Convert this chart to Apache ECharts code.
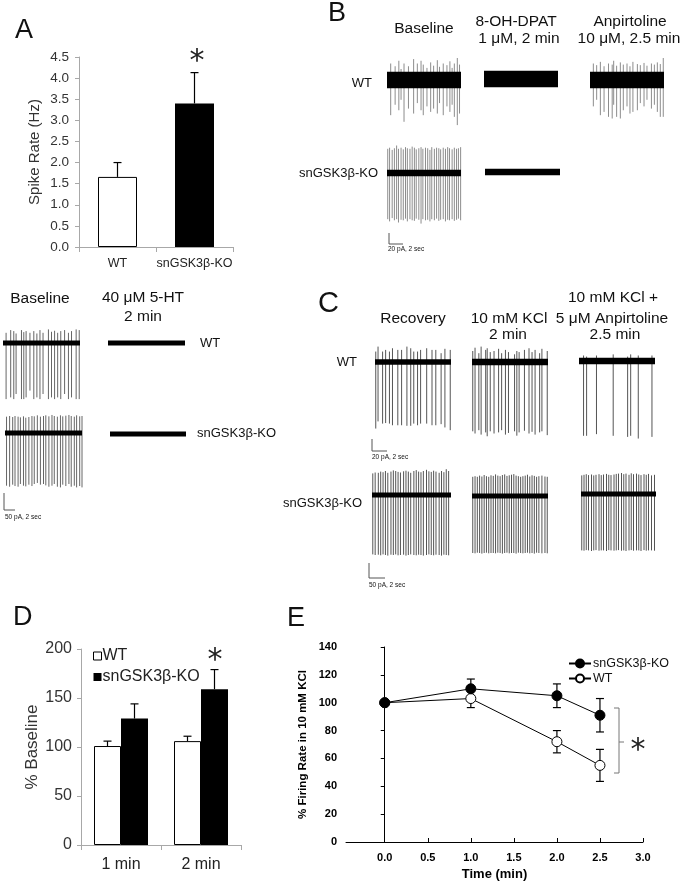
<!DOCTYPE html>
<html>
<head>
<meta charset="utf-8">
<script src="https://cdn.jsdelivr.net/npm/echarts@6/dist/echarts.min.js"></script>
<style>
  html, body { margin: 0; padding: 0; background: #fff; }
  #chart { width: 683px; height: 888px; }
</style>
</head>
<body>
<div id="chart"></div>
<script>
const FONT = 'Liberation Sans, Arial, sans-serif'
const TRACE_SEC = 10

// A - spontaneous spike rate
const aGroups = ['WT', 'snGSK3β-KO']
const aRate = [1.66, 3.40]
const aRateSem = [0.34, 0.73]

// D - % baseline after 5-HT
const dTimes = ['1 min', '2 min']
const dWt = [101, 106]
const dWtSem = [5, 5]
const dKo = [129, 159]
const dKoSem = [15, 20]

// E - firing rate in 10 mM KCl
const eTime = [0, 1, 2, 2.5]
const eKo = [100, 110, 105, 91]
const eKoSem = [0, 7, 8.5, 12]
const eWt = [100, 103, 72, 55]
const eWtSem = [0, 6.5, 8, 11.5]
const eTicks = [0, 0.5, 1, 1.5, 2, 2.5, 3]

// recordings: spikes are [time (s), peak (pA), trough (pA)]
const bWtBase = [[0.5,30,-64],[1.1,25,-45],[1.6,35,-55],[1.9,20,-36],[2.3,30,-76],[2.9,25,-52],[3.6,38,-61],[4.1,30,-42],[4.6,35,-55],[4.9,28,-64],[5.4,22,-48],[5.9,32,-58],[6.3,26,-52],[6.8,36,-61],[7.1,24,-42],[7.6,30,-64],[8.1,27,-48],[8.5,34,-58],[8.8,22,-45],[9.1,30,-67],[9.5,40,-82],[9.8,28,-61]]
const bWtDpat = []
const bWtAnp = [[0.45,30,-48],[0.9,27,-36],[1.4,33,-64],[1.9,25,-58],[2.5,30,-67],[3.0,28,-70],[3.2,35,-45],[3.6,26,-67],[4.1,32,-70],[4.5,28,-55],[5.0,30,-48],[5.4,25,-61],[5.8,33,-58],[6.4,29,-55],[6.8,27,-42],[7.3,31,-48],[7.7,26,-36],[8.3,30,-52],[8.7,28,-45],[9.1,32,-58],[9.5,29,-67],[9.9,40,-67]]
const bKoBase = [[0.1,44,-84],[0.35,46,-88],[0.7,42,-82],[1.0,45,-86],[1.3,50,-84],[1.55,44,-90],[1.9,46,-85],[2.2,43,-86],[2.5,47,-83],[2.75,45,-88],[3.1,44,-84],[3.4,48,-86],[3.7,46,-87],[3.95,43,-83],[4.3,45,-85],[4.6,47,-92],[4.85,44,-84],[5.2,46,-86],[5.5,45,-85],[5.8,42,-88],[6.05,47,-84],[6.4,44,-86],[6.7,46,-83],[7.0,45,-87],[7.25,43,-85],[7.6,46,-84],[7.9,44,-88],[8.2,47,-85],[8.45,45,-86],[8.8,43,-84],[9.1,46,-87],[9.4,44,-85],[9.65,45,-83],[9.95,47,-86]]
const bKoDpat = []
const htWtBase = [[0.4,30,-165],[1.0,38,-160],[1.4,35,-165],[1.7,28,-150],[2.4,38,-165],[2.7,32,-165],[3.0,35,-160],[3.5,30,-140],[4.0,35,-165],[4.4,28,-160],[4.8,38,-165],[5.2,30,-150],[5.9,40,-165],[6.3,33,-160],[6.7,36,-165],[7.1,30,-160],[7.5,35,-165],[8.0,38,-150],[8.5,30,-165],[8.9,35,-160],[9.5,40,-165],[9.9,38,-165]]
const htWt5ht = []
const htKoBase = [[0.2,48,-155],[0.6,50,-158],[1.0,47,-152],[1.3,50,-156],[1.7,48,-158],[2.0,46,-150],[2.4,49,-155],[2.7,45,-157],[3.1,47,-152],[3.5,50,-156],[3.8,49,-150],[4.2,52,-147],[4.6,48,-152],[5.0,50,-150],[5.3,52,-154],[5.7,49,-158],[6.1,53,-155],[6.4,50,-150],[6.8,48,-158],[7.2,52,-160],[7.5,49,-152],[7.9,51,-156],[8.3,53,-150],[8.6,50,-158],[9.0,48,-155],[9.3,52,-160],[9.7,49,-156],[10.0,50,-160]]
const htKo5ht = []
const cWtRec = [[0.1,19,-121],[0.4,28,-108],[1.0,19,-112],[1.4,22,-111],[1.9,19,-112],[2.3,25,-115],[3.0,22,-115],[3.5,22,-115],[4.2,28,-116],[4.7,25,-116],[5.1,19,-112],[5.6,19,-115],[6.0,22,-112],[6.8,25,-112],[7.5,22,-115],[8.0,22,-115],[8.7,16,-113],[9.2,24,-119],[9.9,22,-124]]
const cWtKcl = [[0.1,20,-126],[0.4,26,-130],[0.9,16,-124],[1.2,28,-132],[1.8,22,-128],[2.0,25,-135],[2.4,18,-126],[2.9,20,-130],[3.5,24,-128],[3.9,16,-124],[4.4,22,-132],[4.8,18,-129],[5.6,14,-126],[5.9,20,-134],[6.2,18,-128],[6.9,22,-125],[7.5,25,-130],[7.9,18,-127],[8.3,22,-132],[8.9,16,-128],[9.2,24,-126],[9.9,20,-133]]
const cWtAnp = [[0.6,10,-136],[1.0,8,-136],[2.3,10,-133],[4.5,12,-136],[6.4,8,-138],[6.8,12,-136],[7.8,10,-141],[9.6,10,-138]]
const cKoRec = [[0.1,72,-198],[0.4,75,-200],[0.8,74,-199],[1.1,78,-201],[1.4,76,-198],[1.7,80,-200],[2.0,74,-202],[2.4,78,-199],[2.7,82,-200],[3.0,80,-198],[3.3,77,-201],[3.6,75,-200],[4.0,79,-199],[4.3,81,-202],[4.6,78,-200],[4.9,74,-198],[5.3,80,-200],[5.6,83,-201],[5.9,78,-199],[6.2,76,-200],[6.5,80,-202],[6.9,84,-200],[7.2,79,-198],[7.5,77,-200],[7.8,81,-201],[8.1,78,-199],[8.5,74,-200],[8.8,80,-202],[9.1,76,-199],[9.4,86,-200],[9.7,80,-201]]
const cKoKcl = [[0.1,64,-190],[0.4,66,-191],[0.7,64,-189],[1.0,68,-190],[1.3,65,-192],[1.6,70,-190],[1.9,66,-189],[2.2,64,-191],[2.5,69,-190],[2.8,67,-190],[3.1,72,-191],[3.4,68,-189],[3.7,66,-190],[4.0,70,-192],[4.3,72,-190],[4.6,67,-189],[4.9,69,-191],[5.2,71,-190],[5.5,73,-190],[5.8,68,-192],[6.1,66,-189],[6.4,64,-190],[6.7,66,-191],[7.0,68,-190],[7.3,71,-189],[7.6,65,-191],[7.9,69,-190],[8.2,67,-192],[8.5,64,-189],[8.8,66,-190],[9.2,68,-191],[9.6,65,-190],[9.9,64,-191]]
const cKoAnp = [[0.1,62,-188],[0.4,64,-189],[0.7,66,-187],[1.0,63,-188],[1.4,65,-190],[1.7,62,-188],[2.0,64,-187],[2.4,66,-189],[2.7,63,-188],[3.0,65,-188],[3.4,67,-190],[3.7,64,-187],[4.0,63,-188],[4.4,65,-189],[4.7,67,-188],[5.0,68,-187],[5.4,70,-189],[5.7,66,-188],[6.0,68,-190],[6.4,64,-188],[6.7,69,-187],[7.0,66,-189],[7.4,68,-188],[7.7,65,-188],[8.0,63,-190],[8.4,66,-187],[8.7,64,-189],[9.0,67,-188],[9.4,62,-188],[9.8,64,-189]]

// where each recording sits on the page
const traces = [
  { spikes: bWtBase, noise: 15, left: 387, cy: 80, width: 74, pxPerPA: 0.55, color: '#8c8c8c' },
  { spikes: bWtDpat, noise: 15, left: 484, cy: 79, width: 74, pxPerPA: 0.55, color: '#8c8c8c' },
  { spikes: bWtAnp, noise: 15, left: 590, cy: 80, width: 74, pxPerPA: 0.55, color: '#8c8c8c' },
  { spikes: bKoBase, noise: 6, left: 387, cy: 173, width: 74, pxPerPA: 0.55, color: '#8c8c8c' },
  { spikes: bKoDpat, noise: 6, left: 485, cy: 172, width: 75, pxPerPA: 0.55, color: '#8c8c8c' },
  { spikes: htWtBase, noise: 7, left: 3, cy: 343, width: 77, pxPerPA: 0.34, color: '#666' },
  { spikes: htWt5ht, noise: 7, left: 108, cy: 343, width: 77, pxPerPA: 0.34, color: '#666' },
  { spikes: htKoBase, noise: 7, left: 5, cy: 433, width: 77, pxPerPA: 0.34, color: '#666' },
  { spikes: htKo5ht, noise: 7, left: 110, cy: 434, width: 76, pxPerPA: 0.34, color: '#666' },
  { spikes: cWtRec, noise: 5, left: 375, cy: 362, width: 76, pxPerPA: 0.55, color: '#555' },
  { spikes: cWtKcl, noise: 6, left: 472, cy: 362, width: 76, pxPerPA: 0.55, color: '#555' },
  { spikes: cWtAnp, noise: 6, left: 579, cy: 361, width: 76, pxPerPA: 0.55, color: '#555' },
  { spikes: cKoRec, noise: 8, left: 372, cy: 495, width: 79, pxPerPA: 0.3, color: '#555' },
  { spikes: cKoKcl, noise: 8, left: 472, cy: 496, width: 76, pxPerPA: 0.3, color: '#555' },
  { spikes: cKoAnp, noise: 8, left: 581, cy: 494, width: 75, pxPerPA: 0.3, color: '#555' }
]

const grid = [], xAxis = [], yAxis = [], series = []

function addGrid(g, xa, ya) {
  grid.push(g)
  const i = grid.length - 1
  xa.gridIndex = i
  ya.gridIndex = i
  xAxis.push(xa)
  yAxis.push(ya)
  return i
}

// error bar drawer, offset in px for grouped bars
function errorBars(offset, both, cap) {
  return function (params, api) {
    const x = api.value(0), v = api.value(1), e = api.value(2)
    if (!e) return { type: 'group', children: [] }
    const top = api.coord([x, v + e])
    const bot = api.coord([x, both ? v - e : v])
    const cx = top[0] + offset
    const st = { stroke: '#000', lineWidth: 1.2 }
    const kids = [
      { type: 'line', shape: { x1: cx, y1: top[1], x2: cx, y2: bot[1] }, style: st },
      { type: 'line', shape: { x1: cx - cap, y1: top[1], x2: cx + cap, y2: top[1] }, style: st }
    ]
    if (both) kids.push({ type: 'line', shape: { x1: cx - cap, y1: bot[1], x2: cx + cap, y2: bot[1] }, style: st })
    return { type: 'group', children: kids }
  }
}

const grayAxis = { show: true, lineStyle: { color: '#a8a8a8', width: 1 } }

// ---- panel A
const gA = addGrid(
  { left: 79, top: 57, width: 154, height: 190 },
  { type: 'category', data: aGroups, axisLine: grayAxis,
    axisTick: { show: true, length: 5, lineStyle: { color: '#a8a8a8' } },
    axisLabel: { interval: 0, fontSize: 12.5, color: '#222', margin: 10, fontFamily: FONT } },
  { type: 'value', min: 0, max: 4.5, interval: 0.5, splitLine: { show: false },
    axisLine: grayAxis, axisTick: { show: true, length: 4, lineStyle: { color: '#a8a8a8' } },
    axisLabel: { fontSize: 13.5, color: '#333', margin: 10, fontFamily: FONT, formatter: v => v.toFixed(1) },
    name: 'Spike Rate (Hz)', nameLocation: 'middle', nameGap: 37,
    nameTextStyle: { fontSize: 15, color: '#333', fontFamily: FONT } }
)
series.push({
  type: 'bar', xAxisIndex: gA, yAxisIndex: gA, barWidth: 39,
  data: aRate.map((v, i) => ({ value: v, itemStyle: i === 0 ? { color: '#fff', borderColor: '#000', borderWidth: 1 } : { color: '#000' } }))
})
series.push({
  type: 'custom', xAxisIndex: gA, yAxisIndex: gA, z: 3,
  data: aRate.map((v, i) => [i, v, aRateSem[i]]), renderItem: errorBars(0, false, 4)
})

// ---- panel D
const gD = addGrid(
  { left: 81, top: 649, width: 160, height: 196 },
  { type: 'category', data: dTimes, axisLine: grayAxis,
    axisTick: { show: true, length: 5, lineStyle: { color: '#a8a8a8' } },
    axisLabel: { interval: 0, fontSize: 16, color: '#222', margin: 12, fontFamily: FONT } },
  { type: 'value', min: 0, max: 200, interval: 50, splitLine: { show: false },
    axisLine: grayAxis, axisTick: { show: true, length: 4, lineStyle: { color: '#a8a8a8' } },
    axisLabel: { fontSize: 16, color: '#333', margin: 9, fontFamily: FONT },
    name: '% Baseline', nameLocation: 'middle', nameGap: 40,
    nameTextStyle: { fontSize: 17, color: '#333', fontFamily: FONT } }
)
series.push({
  type: 'bar', name: 'dWT', xAxisIndex: gD, yAxisIndex: gD, barWidth: 27, barGap: '0%',
  itemStyle: { color: '#fff', borderColor: '#000', borderWidth: 1 }, data: dWt
})
series.push({
  type: 'bar', name: 'dKO', xAxisIndex: gD, yAxisIndex: gD, barWidth: 27, barGap: '0%',
  itemStyle: { color: '#000' }, data: dKo
})
series.push({
  type: 'custom', xAxisIndex: gD, yAxisIndex: gD, z: 3,
  data: dWt.map((v, i) => [i, v, dWtSem[i]]), renderItem: errorBars(-13.5, false, 4)
})
series.push({
  type: 'custom', xAxisIndex: gD, yAxisIndex: gD, z: 3,
  data: dKo.map((v, i) => [i, v, dKoSem[i]]), renderItem: errorBars(13.5, false, 4)
})

// ---- panel E
const gE = addGrid(
  { left: 346, top: 647, width: 297, height: 195 },
  { type: 'value', min: -0.45, max: 3, splitLine: { show: false },
    axisLine: { show: true, lineStyle: { color: '#000', width: 1 } },
    axisTick: { show: true, inside: true, length: 4, customValues: eTicks, lineStyle: { color: '#000' } },
    axisLabel: { customValues: eTicks, formatter: v => v.toFixed(1), fontSize: 11, fontWeight: 'bold', color: '#000', margin: 10, fontFamily: FONT },
    name: 'Time (min)', nameLocation: 'middle', nameGap: 26,
    nameTextStyle: { fontSize: 13, fontWeight: 'bold', color: '#000', fontFamily: FONT } },
  { type: 'value', min: 0, max: 140, interval: 20, splitLine: { show: false },
    axisLine: { show: true, lineStyle: { color: '#000', width: 1 } },
    axisTick: { show: true, length: 4, lineStyle: { color: '#000' } },
    axisLabel: { fontSize: 11, fontWeight: 'bold', color: '#000', margin: 9, fontFamily: FONT },
    name: '% Firing Rate in 10 mM KCl', nameLocation: 'middle', nameGap: 37,
    nameTextStyle: { fontSize: 11.5, fontWeight: 'bold', color: '#000', fontFamily: FONT } }
)
series.push({
  type: 'custom', xAxisIndex: gE, yAxisIndex: gE, z: 1,
  data: eTime.map((t, i) => [t, eWt[i], eWtSem[i]]), renderItem: errorBars(0, true, 4)
})
series.push({
  type: 'custom', xAxisIndex: gE, yAxisIndex: gE, z: 1,
  data: eTime.map((t, i) => [t, eKo[i], eKoSem[i]]), renderItem: errorBars(0, true, 4)
})
series.push({
  type: 'line', name: 'eWT', xAxisIndex: gE, yAxisIndex: gE, z: 2,
  symbol: 'circle', symbolSize: 10, lineStyle: { color: '#000', width: 1 },
  itemStyle: { color: '#fff', borderColor: '#000', borderWidth: 1 },
  data: eTime.map((t, i) => [t, eWt[i]])
})
series.push({
  type: 'line', name: 'eKO', xAxisIndex: gE, yAxisIndex: gE, z: 3,
  symbol: 'circle', symbolSize: 10, lineStyle: { color: '#000', width: 1 },
  itemStyle: { color: '#000', borderColor: '#000', borderWidth: 1 },
  data: eTime.map((t, i) => [t, eKo[i]])
})

// ---- recordings
traces.forEach(tr => {
  const ups = tr.spikes.map(s => s[1])
  const downs = tr.spikes.map(s => s[2])
  const ymax = Math.max(tr.noise, ...ups) + 1
  const ymin = Math.min(-tr.noise, ...downs) - 1
  const gi = addGrid(
    { left: tr.left, top: tr.cy - ymax * tr.pxPerPA, width: tr.width, height: (ymax - ymin) * tr.pxPerPA },
    { type: 'value', min: 0, max: TRACE_SEC, show: false },
    { type: 'value', min: ymin, max: ymax, show: false }
  )
  series.push({
    type: 'custom', xAxisIndex: gi, yAxisIndex: gi, z: 2, silent: true, data: tr.spikes,
    renderItem: (p, api) => {
      const a = api.coord([api.value(0), api.value(1)])
      const b = api.coord([api.value(0), api.value(2)])
      return { type: 'line', shape: { x1: a[0], y1: a[1], x2: b[0], y2: b[1] }, style: { stroke: tr.color, lineWidth: 1 } }
    }
  })
  series.push({
    type: 'custom', xAxisIndex: gi, yAxisIndex: gi, z: 3, silent: true, data: [[0, TRACE_SEC, tr.noise]],
    renderItem: (p, api) => {
      const a = api.coord([api.value(0), api.value(2)])
      const b = api.coord([api.value(1), -api.value(2)])
      return { type: 'rect', shape: { x: a[0], y: a[1], width: b[0] - a[0], height: b[1] - a[1] }, style: { fill: '#000' } }
    }
  })
})

// ---- labels
function txt(x, y, text, size, align) {
  return {
    type: 'text', x: x, y: y, silent: true,
    style: { text: text, fontSize: size, fontFamily: FONT, fill: '#111', align: align || 'center', verticalAlign: 'middle' }
  }
}
function star(x, y) {
  return {
    type: 'text', x: x, y: y, silent: true,
    style: { text: '*', fontSize: 30, fontFamily: 'DejaVu Sans', fill: '#222', align: 'center', verticalAlign: 'middle' }
  }
}
function poly(points, color) {
  return { type: 'polyline', silent: true, shape: { points: points }, style: { stroke: color || '#555', lineWidth: 1, fill: null } }
}

const graphic = [
  // panel letters
  txt(15, 31, 'A', 27, 'left'), txt(328, 14, 'B', 27, 'left'), txt(318, 304, 'C', 29, 'left'),
  txt(13, 618, 'D', 27, 'left'), txt(287, 619, 'E', 27, 'left'),
  // B headers
  txt(424, 29, 'Baseline', 15.5), txt(516, 22, '8-OH-DPAT', 15.5), txt(519, 39, '1 μM, 2 min', 15.5),
  txt(630, 22, 'Anpirtoline', 15.5), txt(629, 39, '10 μM, 2.5 min', 15.5),
  txt(372, 83, 'WT', 13, 'right'), txt(378, 173, 'snGSK3β-KO', 13, 'right'),
  // 5-HT headers
  txt(40, 299, 'Baseline', 15.5), txt(143, 298, '40 μM 5-HT', 15.5), txt(143, 317, '2 min', 15.5),
  txt(200, 343, 'WT', 13, 'left'), txt(197, 433, 'snGSK3β-KO', 13, 'left'),
  // C headers
  txt(413, 319, 'Recovery', 15.5), txt(509, 319, '10 mM KCl', 15.5), txt(508, 335, '2 min', 15.5),
  txt(613, 298, '10 mM KCl +', 15.5), txt(612, 319, '5 μM Anpirtoline', 15.5), txt(615, 335, '2.5 min', 15.5),
  txt(357, 362, 'WT', 13, 'right'), txt(362, 503, 'snGSK3β-KO', 13, 'right'),
  // scale bars
  poly([[389, 233], [389, 244], [403, 244]]), txt(388, 249, '20 pA, 2 sec', 6.5, 'left'),
  poly([[4, 493], [4, 510], [15, 510]]), txt(5, 517, '50 pA, 2 sec', 6.5, 'left'),
  poly([[372, 439], [372, 451], [387, 451]]), txt(372, 457, '20 pA, 2 sec', 6.5, 'left'),
  poly([[369, 563], [369, 578], [385, 578]]), txt(369, 585, '50 pA, 2 sec', 6.5, 'left'),
  // significance
  star(197, 62), star(215, 661), star(638, 751),
  poly([[614, 708], [619, 708], [619, 773], [614, 773]], '#777'),
  poly([[619, 742], [624, 742]], '#777')
]

const eNames = { eKO: 'snGSK3β-KO', eWT: 'WT' }
const dNames = { dWT: 'WT', dKO: 'snGSK3β-KO' }

const chart = echarts.init(document.getElementById('chart'))
chart.setOption({
  backgroundColor: '#fff',
  animation: false,
  textStyle: { fontFamily: FONT },
  grid: grid,
  xAxis: xAxis,
  yAxis: yAxis,
  legend: [
    {
      data: [{ name: 'dWT', itemStyle: { color: '#fff', borderColor: '#000', borderWidth: 1 } }, { name: 'dKO' }],
      formatter: n => dNames[n], icon: 'rect', orient: 'vertical', left: 88, top: 643,
      itemWidth: 8, itemHeight: 8, itemGap: 5, selectedMode: false,
      textStyle: { fontSize: 16, color: '#222', fontFamily: FONT, padding: [0, 0, 0, -4] }
    },
    {
      data: ['eKO', 'eWT'], formatter: n => eNames[n], orient: 'vertical', left: 563, top: 652,
      itemWidth: 22, itemHeight: 10, itemGap: 2, selectedMode: false,
      textStyle: { fontSize: 12.5, color: '#111', fontFamily: FONT, padding: [0, 0, 0, -3] }
    }
  ],
  series: series,
  graphic: graphic
})
</script>
</body>
</html>
